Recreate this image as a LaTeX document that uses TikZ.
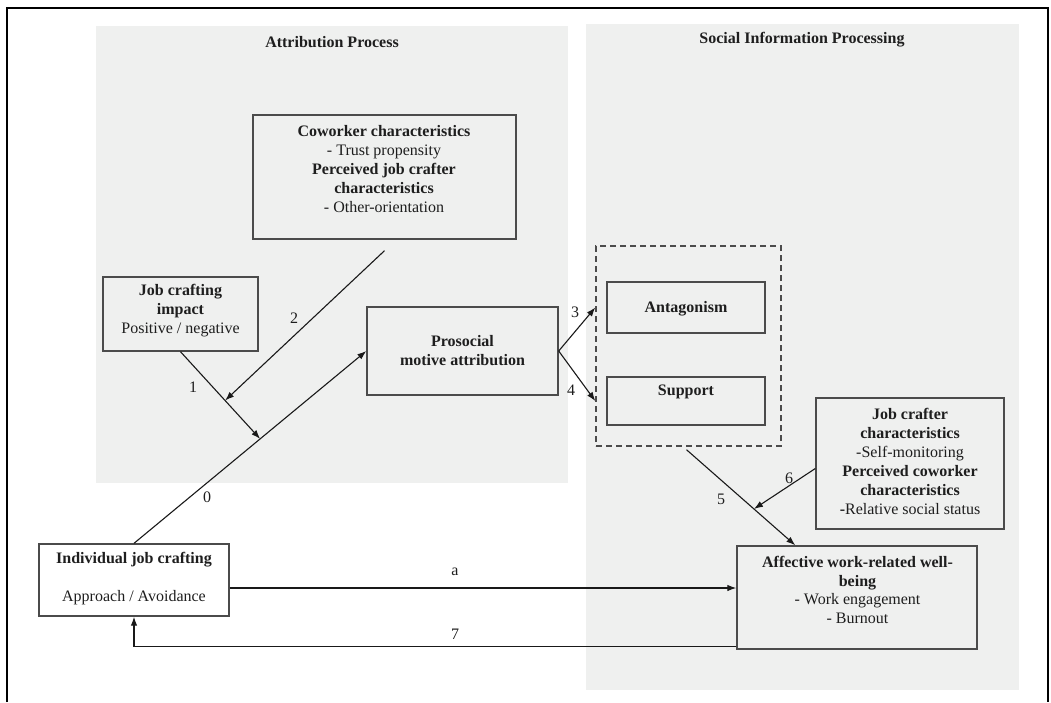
\documentclass[tikz,border=0pt]{standalone}
\usepackage{fontspec}
\setmainfont{Liberation Serif}
\usetikzlibrary{arrows.meta,calc}
\definecolor{panel}{RGB}{239,240,239}
\definecolor{boxline}{RGB}{75,75,75}
\definecolor{txt}{RGB}{30,30,30}
\begin{document}
\begin{tikzpicture}[x=1pt,y=-1pt,
  every node/.style={font=\fontsize{16}{19}\selectfont, text=txt, inner sep=0pt},
  box/.style={draw=boxline, line width=1.4pt, inner sep=0pt},
  dbox/.style={draw=boxline, line width=1.4pt, inner sep=0pt, dash pattern=on 6pt off 4pt},
  lbl/.style={align=center},
  conn/.style={draw=black!90, line width=1.1pt, -{Latex[length=9pt,width=6.5pt]}},
  ptitle/.style={font=\fontsize{16}{19}\selectfont\bfseries}]
\useasboundingbox (0,0) rectangle (1051,702);
% panels
\fill[panel] (96,26) rectangle (568,483);
\fill[panel] (586,24) rectangle (1019,690);
% frame
\draw[line width=2.2pt] (7,702) -- (7,8) -- (1048,8) -- (1048,702);
% titles
\node[ptitle] (t1) at (332,42) {Attribution Process};
\node[ptitle] (t2) at (802,40) {Social Information Processing};
% boxes
\node[box, minimum width=263pt, minimum height=124pt] (cow) at (384.5,177) {};
\node[box, minimum width=155pt, minimum height=74pt] (imp) at (180.5,314) {};
\node[box, minimum width=191pt, minimum height=88pt] (pro) at (462.5,351) {};
\node[dbox, minimum width=185pt, minimum height=200pt] (dash) at (688.5,346) {};
\node[box, minimum width=158pt, minimum height=51pt] (ant) at (686,307.5) {};
\node[box, minimum width=158pt, minimum height=48pt] (sup) at (686,401) {};
\node[box, minimum width=188pt, minimum height=131pt] (jc) at (910,463.5) {};
\node[box, minimum width=190pt, minimum height=72pt] (ind) at (134,580) {};
\node[box, minimum width=240pt, minimum height=103pt] (aff) at (857,597.5) {};
% texts
\node[lbl] (cowt) at (384,169) {\textbf{Coworker characteristics}\\- Trust propensity\\\textbf{Perceived job crafter}\\\textbf{characteristics}\\- Other-orientation};
\node[lbl] (impt) at (180.5,311) {\textbf{Job crafting}\\\textbf{impact}\\Positive / negative};
\node[lbl] (prot) at (462.5,351) {\textbf{Prosocial}\\\textbf{motive attribution}};
\node[lbl] (antt) at (686,309) {\textbf{Antagonism}};
\node[lbl] (supt) at (686,392) {\textbf{Support}};
\node[lbl] (jct) at (910,461) {\textbf{Job crafter}\\\textbf{characteristics}\\-Self-monitoring\\\textbf{Perceived coworker}\\\textbf{characteristics}\\\textbf{-}Relative social status};
\node[lbl] (indt) at (134,579) {\textbf{Individual job crafting}\\[19pt]Approach / Avoidance};
\node[lbl, font=\fontsize{16}{18.4}\selectfont] (afft) at (857.5,590) {\textbf{Affective work-related well-}\\\textbf{being}\\- Work engagement\\- Burnout};
% connectors
\draw[conn] (ind.north) -- coordinate[pos=0.543] (m1) (pro.west);
\draw[conn] (imp.south) -- coordinate[pos=0.56] (m2) (m1);
\coordinate (c2) at ($(cow.south)+(0,11)$);
\draw[conn] (c2) -- (m2);
\draw[conn] (pro.east) -- (dash.west |- ant.center);
\draw[conn] (pro.east) -- (dash.west |- sup.center);
\coordinate (c5) at ($(dash.south)+(-2,3)$);
\coordinate (e5) at ($(aff.north west)+(59,0)$);
\draw[conn] (c5) -- coordinate[pos=0.62] (m5) (e5);
\coordinate (c6) at ($(jc.west)+(0,5)$);
\draw[conn] (c6) -- (m5);
\coordinate (ca) at ($(ind.east)+(0,8)$);
\draw[conn] (ca) -- (aff.west |- ca);
\coordinate (c7) at ($(aff.south west)+(0,-3)$);
\draw[conn] (c7) -- (ind.south |- c7) -- (ind.south);
% labels
\node (l0) at (207,497) {0};
\node (l1) at (193,387) {1};
\node (l2) at (294,318) {2};
\node (l3) at (575,312) {3};
\node (l4) at (571,390) {4};
\node (l5) at (721,499) {5};
\node (l6) at (789,478) {6};
\node (la) at (455,572) {a};
\node (l7) at (455,634) {7};
\end{tikzpicture}
\end{document}
